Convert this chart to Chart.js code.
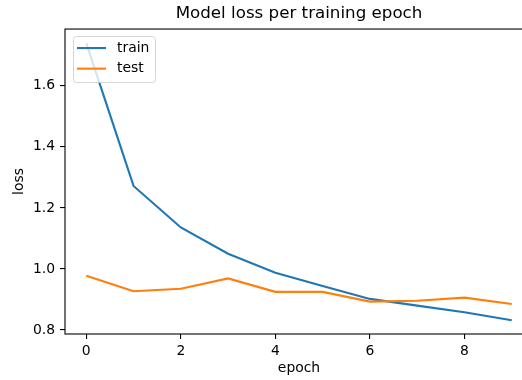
<!DOCTYPE html>
<html>
<head>
<meta charset="utf-8">
<script src="https://cdn.jsdelivr.net/npm/chart.js@4/dist/chart.umd.min.js"></script>
<style>
  html, body { margin: 0; padding: 0; background: #fff; overflow: hidden; }
  #wrap { position: relative; width: 540px; height: 380px; }
</style>
</head>
<body>
<div id="wrap"><canvas id="loss"></canvas></div>
<script>
const epochs = [0, 1, 2, 3, 4, 5, 6, 7, 8, 9];
const trainLoss = [1.740, 1.272, 1.136, 1.050, 0.988, 0.944, 0.902, 0.880, 0.858, 0.832];
const testLoss = [0.978, 0.927, 0.935, 0.969, 0.925, 0.925, 0.893, 0.896, 0.906, 0.885];
const xTicks = [0, 2, 4, 6, 8];
const yTicks = [0.8, 1.0, 1.2, 1.4, 1.6];

const FONT = "'DejaVu Sans', sans-serif";

// spines like matplotlib (right one falls outside the visible window)
const frame = {
  id: "frame",
  afterDraw(chart) {
    const { ctx, chartArea: a } = chart;
    ctx.save();
    ctx.strokeStyle = "#000";
    ctx.lineWidth = 1.1;
    ctx.strokeRect(a.left, a.top, a.right - a.left, a.bottom - a.top);
    ctx.restore();
  }
};

// legend box in upper left of the axes
const boxLegend = {
  id: "boxLegend",
  afterDatasetsDraw(chart) {
    const { ctx, chartArea: a } = chart;
    const x = a.left + 8, y = a.top + 7, w = 82, h = 46;
    ctx.save();
    ctx.beginPath();
    ctx.roundRect(x + 0.5, y + 0.5, w, h, 3);
    ctx.fillStyle = "rgba(255,255,255,0.8)";
    ctx.fill();
    ctx.strokeStyle = "rgba(204,204,204,0.8)";
    ctx.lineWidth = 1;
    ctx.stroke();
    ctx.font = "13.9px " + FONT;
    ctx.textBaseline = "middle";
    chart.data.datasets.forEach((ds, i) => {
      const ly = y + 12 + i * 20.6;
      ctx.beginPath();
      ctx.moveTo(x + 4, ly);
      ctx.lineTo(x + 33, ly);
      ctx.strokeStyle = ds.borderColor;
      ctx.lineWidth = 2.1;
      ctx.stroke();
      ctx.fillStyle = "#000";
      ctx.fillText(ds.label, x + 44, ly);
    });
    ctx.restore();
  }
};

new Chart(document.getElementById("loss"), {
  type: "line",
  data: {
    datasets: [
      {
        label: "train",
        data: epochs.map((e, i) => ({ x: e, y: trainLoss[i] })),
        borderColor: "#1f77b4",
        borderWidth: 2.1,
        pointRadius: 0,
        tension: 0,
        order: 1
      },
      {
        label: "test",
        data: epochs.map((e, i) => ({ x: e, y: testLoss[i] })),
        borderColor: "#ff7f0e",
        borderWidth: 2.1,
        pointRadius: 0,
        tension: 0,
        order: 0
      }
    ]
  },
  options: {
    responsive: true,
    maintainAspectRatio: false,
    animation: false,
    layout: { padding: { left: 0, right: 7, top: 0, bottom: 0 } },
    plugins: {
      legend: { display: false },
      tooltip: { enabled: false },
      title: {
        display: true,
        fullSize: false, // centre over the axes, not the canvas
        text: "Model loss per training epoch",
        color: "#000",
        font: { family: FONT, size: 16.7, weight: "normal", lineHeight: 1.2 },
        padding: { top: 4, bottom: 5 }
      }
    },
    scales: {
      x: {
        type: "linear",
        min: -0.45,
        max: 9.45,
        afterBuildTicks: s => { s.ticks = xTicks.map(v => ({ value: v })); },
        afterFit: s => { s.height = 46; },
        grid: { drawOnChartArea: false, drawTicks: true, tickLength: 5, color: "#000", lineWidth: 1.1 },
        border: { display: false },
        ticks: { color: "#000", padding: 4, font: { family: FONT, size: 13.9 }, callback: v => String(v) },
        title: {
          display: true,
          text: "epoch",
          color: "#000",
          font: { family: FONT, size: 13.9, lineHeight: 1.2 },
          padding: { top: 0, bottom: 3 }
        }
      },
      y: {
        min: 0.787,
        max: 1.786,
        afterBuildTicks: s => { s.ticks = yTicks.map(v => ({ value: v })); },
        afterFit: s => { s.width = 65; },
        grid: { drawOnChartArea: false, drawTicks: true, tickLength: 5, color: "#000", lineWidth: 1.1 },
        border: { display: false },
        ticks: { color: "#000", padding: 5, font: { family: FONT, size: 13.9 }, callback: v => v.toFixed(1) },
        title: {
          display: true,
          text: "loss",
          color: "#000",
          font: { family: FONT, size: 13.9, lineHeight: 1.2 },
          padding: { top: 11, bottom: 0 }
        }
      }
    }
  },
  plugins: [frame, boxLegend]
});
</script>
</body>
</html>
